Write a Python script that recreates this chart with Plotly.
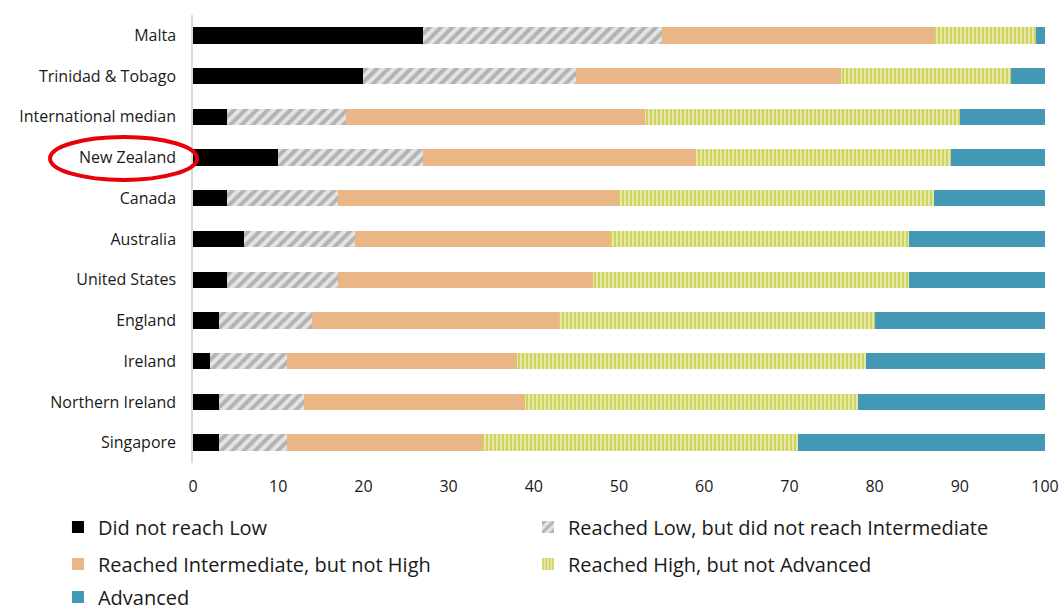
import plotly.graph_objects as go

categories = ["Malta", "Trinidad & Tobago", "International median", "New Zealand", "Canada",
              "Australia", "United States", "England", "Ireland", "Northern Ireland", "Singapore"]
did_not_reach_low = [27, 20, 4, 10, 4, 6, 4, 3, 2, 3, 3]
reached_low = [28, 25, 14, 17, 13, 13, 13, 11, 9, 10, 8]
reached_intermediate = [32, 31, 35, 32, 33, 30, 30, 29, 27, 26, 23]
reached_high = [12, 20, 37, 30, 37, 35, 37, 37, 41, 39, 37]
advanced = [1, 4, 10, 11, 13, 16, 16, 20, 21, 22, 29]
x_ticks = [0, 10, 20, 30, 40, 50, 60, 70, 80, 90, 100]

FONT = "Open Sans"
TXT = "#1a1a1a"
fig = go.Figure()
fig.add_bar(y=categories, x=did_not_reach_low, orientation="h", name="Did not reach Low",
            legend="legend", marker=dict(color="#000000", line=dict(width=0)))
fig.add_bar(y=categories, x=reached_low, orientation="h", name="Reached Low, but did not reach Intermediate",
            legend="legend2",
            marker=dict(color="#e4e4e4", line=dict(width=0),
                        pattern=dict(shape="/", fgcolor="#828282", bgcolor="#e4e4e4", size=8, solidity=0.5)))
fig.add_bar(y=categories, x=reached_intermediate, orientation="h", name="Reached Intermediate, but not High",
            legend="legend3", marker=dict(color="#EAB685", line=dict(width=0)))
fig.add_bar(y=categories, x=reached_high, orientation="h", name="Reached High, but not Advanced",
            legend="legend4",
            marker=dict(color="#e6e9a6", line=dict(width=0),
                        pattern=dict(shape="|", fgcolor="#b5bf18", bgcolor="#e6e9a6", size=4, solidity=0.5)))
fig.add_bar(y=categories, x=advanced, orientation="h", name="Advanced",
            legend="legend5", marker=dict(color="#4398B5", line=dict(width=0)))


def leg(x, y):
    return dict(x=x, xanchor="left", y=y, yanchor="middle", orientation="h",
                font=dict(family=FONT, size=20, color=TXT), itemwidth=30,
                bgcolor="rgba(0,0,0,0)", borderwidth=0)


c1, c2 = -0.1585, 0.3932
r1, r2, r3 = -0.1429, -0.2254, -0.2991

fig.update_layout(
    barmode="stack",
    bargap=0.6,
    width=1060, height=611,
    margin=dict(l=193, r=15, t=15, b=148, autoexpand=False),
    plot_bgcolor="white", paper_bgcolor="white",
    font=dict(family=FONT, size=16, color=TXT),
    showlegend=True,
    legend=leg(c1, r1),
    legend2=leg(c2, r1),
    legend3=leg(c1, r2),
    legend4=leg(c2, r2),
    legend5=leg(c1, r3),
    xaxis=dict(range=[0, 100], tickvals=x_ticks, showgrid=False, zeroline=False,
               showline=False, ticks="", ticklabelstandoff=12, tickfont=dict(size=16, color=TXT)),
    yaxis=dict(autorange="reversed", showgrid=False, showline=True, linecolor="#d9d9d9",
               linewidth=1.5, ticks="", ticklabelstandoff=12, tickfont=dict(size=16, color=TXT)),
    shapes=[dict(type="circle", xref="paper", yref="paper", x0=-0.1678, x1=0.0047,
                 y0=0.6317, y1=0.7277, line=dict(color="#e8000b", width=4))],
)

fig.write_html("out.html")
